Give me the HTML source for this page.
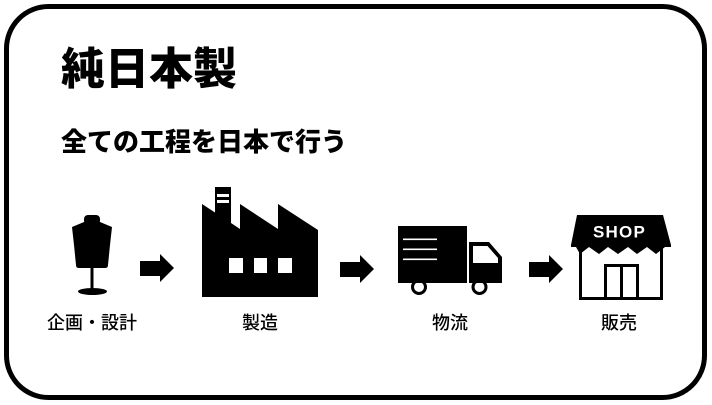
<!DOCTYPE html>
<html><head><meta charset="utf-8"><style>
html,body{margin:0;padding:0;background:#fff;}
svg{display:block;}
</style></head><body>
<svg width="712" height="405" viewBox="0 0 712 405" xmlns="http://www.w3.org/2000/svg">
<rect x="0" y="0" width="712" height="405" fill="#fff"/>
<rect x="6.5" y="6.5" width="698" height="391" rx="42" ry="42" fill="#fff" stroke="#000" stroke-width="5"/>
<text x="61" y="84" font-family="'Liberation Sans','Noto Sans CJK JP',sans-serif" font-size="44" font-weight="900" fill="#000">純日本製</text>
<text x="61" y="151" font-family="'Liberation Sans','Noto Sans CJK JP',sans-serif" font-size="26" font-weight="900" fill="#000">全ての工程を日本で行う</text>
<!-- mannequin -->
<rect x="84" y="215" width="16" height="10" rx="4" fill="#000"/>
<path d="M72,227 L84,222 L100,222 L112,227 L110,245 L108,265 Q108,268 105,268 L79,268 Q76,268 76,265 L74,245 Z" fill="#000"/>
<rect x="90.5" y="266" width="3" height="24" fill="#000"/>
<ellipse cx="92.5" cy="291.5" rx="14.5" ry="3.5" fill="#000"/>
<!-- arrows -->
<polygon points="140,261 160,261 160,254 174,268 160,282 160,276 140,276" fill="#000"/>
<polygon points="340,262 360,262 360,255 374,269 360,283 360,277 340,277" fill="#000"/>
<polygon points="529,262 549,262 549,255 563,269 549,283 549,277 529,277" fill="#000"/>
<!-- factory -->
<polygon points="202,297 202,204 215,212.5 215,187 231,187 231,223 240,229 240,204 278,229 278,204 318,230 318,297" fill="#000"/>
<rect x="217" y="194" width="12" height="3" fill="#fff"/>
<rect x="217" y="200" width="12" height="3" fill="#fff"/>
<rect x="229" y="258" width="14" height="15" fill="#fff"/>
<rect x="254" y="258" width="13" height="15" fill="#fff"/>
<rect x="278" y="258" width="14" height="15" fill="#fff"/>
<!-- truck -->
<circle cx="419" cy="287" r="6.5" fill="#fff" stroke="#000" stroke-width="3"/>
<circle cx="479.5" cy="287" r="6.5" fill="#fff" stroke="#000" stroke-width="3"/>
<rect x="398" y="226" width="69" height="57" fill="#000"/>
<rect x="403" y="238.5" width="34" height="1.6" fill="#fff"/>
<rect x="403" y="248.5" width="34" height="1.6" fill="#fff"/>
<rect x="403" y="258.5" width="34" height="1.6" fill="#fff"/>
<polygon points="469,242 489,242 502,257 502,283 469,283" fill="#000"/>
<polygon points="473,246 487.5,246 498,258 498,263 473,263" fill="#fff"/>
<!-- shop -->
<rect x="580.5" y="244" width="81" height="54.5" fill="#fff" stroke="#000" stroke-width="3"/>
<rect x="605.5" y="265.5" width="32" height="33" fill="#fff" stroke="#000" stroke-width="3"/>
<line x1="621.5" y1="265" x2="621.5" y2="298" stroke="#000" stroke-width="3"/>
<polygon points="577,215 663,215 671,245 671,247 665,247 656,254 647,247 637,254 628,247 618,254 608,247 599,254 589,247 580,254 576,247 571,247 571,245" fill="#000"/>
<text x="619.5" y="237.5" text-anchor="middle" font-family="'Liberation Sans',sans-serif" font-size="17" font-weight="bold" letter-spacing="1.2" fill="#fff">SHOP</text>
<!-- labels -->
<g font-family="'Liberation Sans','Noto Sans CJK JP',sans-serif" font-size="18" font-weight="500" fill="#000" text-anchor="middle">
<text x="92" y="329">企画・設計</text>
<text x="260" y="329">製造</text>
<text x="450" y="329">物流</text>
<text x="619" y="329">販売</text>
</g>
</svg>
</body></html>
